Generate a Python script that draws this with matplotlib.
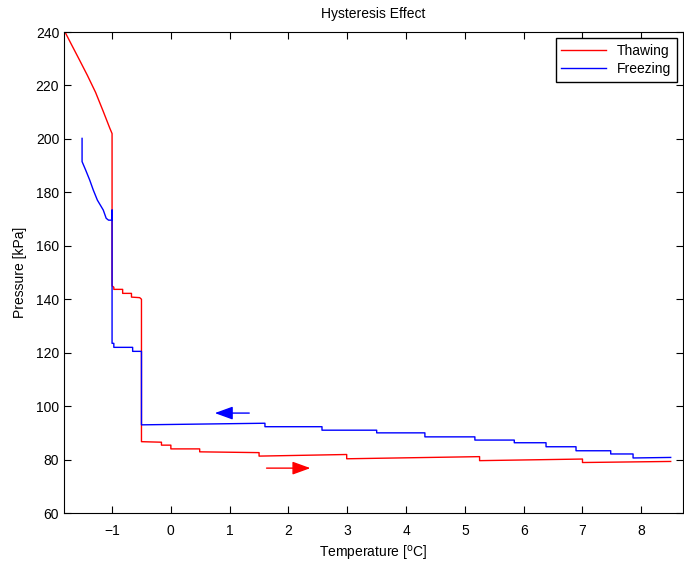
import matplotlib
matplotlib.use('Agg')
import matplotlib.pyplot as plt

plt.rcParams['font.family'] = ['Liberation Sans', 'DejaVu Sans']

# Datos de la curva de descongelacion (temperatura creciente)
thaw_temp = [-1.80, -1.69, -1.56, -1.42, -1.28, -1.15, -1.04, -1.00,
             -1.00, -0.97, -0.97, -0.82, -0.82, -0.67, -0.67, -0.53, -0.50,
             -0.50, -0.16, -0.16, 0.00, 0.00, 0.49, 0.49, 1.50, 1.50, 2.99,
             2.99, 5.25, 5.25, 7.00, 7.00, 8.50]
thaw_pres = [240.0, 235.3, 229.8, 223.8, 217.4, 210.3, 204.1, 202.0,
             145.0, 144.5, 143.7, 143.7, 142.2, 142.2, 140.8, 140.6, 140.0,
             86.7, 86.5, 85.4, 85.4, 84.0, 84.0, 82.9, 82.6, 81.3, 81.9,
             80.3, 81.1, 79.6, 80.2, 78.9, 79.3]

# Datos de la curva de congelacion (temperatura decreciente)
freeze_temp = [8.50, 7.86, 7.86, 7.48, 7.48, 6.89, 6.89, 6.38, 6.38, 5.84, 5.84,
               5.17, 5.17, 4.32, 4.32, 3.50, 3.50, 2.57, 2.57, 1.60, 1.60,
               -0.50, -0.50, -0.65, -0.65, -0.97, -0.97, -1.00, -1.00, -1.00,
               -1.06, -1.10, -1.15, -1.25, -1.32, -1.38, -1.45, -1.51, -1.51]
freeze_pres = [80.8, 80.6, 82.1, 82.1, 83.3, 83.3, 84.8, 84.8, 86.3, 86.3, 87.3,
               87.3, 88.5, 88.5, 90.0, 90.0, 91.0, 91.0, 92.3, 92.3, 93.6,
               93.0, 120.5, 120.5, 122.0, 122.0, 123.5, 123.5, 173.4, 169.6,
               169.6, 170.3, 173.4, 177.1, 180.9, 184.6, 188.4, 191.5, 200.2]

x_ticks = [-1, 0, 1, 2, 3, 4, 5, 6, 7, 8]
y_ticks = [60, 80, 100, 120, 140, 160, 180, 200, 220, 240]

fig = plt.figure(figsize=(6.84, 5.65), dpi=100)
ax = fig.add_axes([0.0936, 0.092, 0.905, 0.8513])

ax.plot(thaw_temp, thaw_pres, color='#ff0000', lw=1, label='Thawing')
ax.plot(freeze_temp, freeze_pres, color='#0000ff', lw=1, label='Freezing')

# Flechas indicando el sentido
ax.annotate('', xy=(0.70, 97.4), xytext=(1.38, 97.4),
            arrowprops=dict(arrowstyle='-|>,head_length=1.1,head_width=0.4',
                            color='#0000ff', lw=1))
ax.annotate('', xy=(2.42, 76.8), xytext=(1.58, 76.8),
            arrowprops=dict(arrowstyle='-|>,head_length=1.1,head_width=0.4',
                            color='#ff0000', lw=1))

ax.set_xlim(-1.817, 8.71)
ax.set_ylim(60, 240)
ax.set_xticks(x_ticks)
ax.set_yticks(y_ticks)
ax.tick_params(direction='in', top=True, right=True, length=5, labelsize=10)
ax.tick_params(axis='x', pad=8)
ax.set_title('Hysteresis Effect', fontsize=10, pad=10)
ax.set_xlabel('Temperature [$^{\\rm o}$C]', fontsize=10, labelpad=4)
ax.set_ylabel('Pressure [kPa]', fontsize=10, labelpad=6)

leg = ax.legend(loc='upper right', fancybox=False, edgecolor='black',
                framealpha=1, fontsize=10, handlelength=3.2,
                borderaxespad=0.45, labelspacing=0.3)
leg.get_frame().set_linewidth(1)

fig.savefig('out.png', dpi=100)
